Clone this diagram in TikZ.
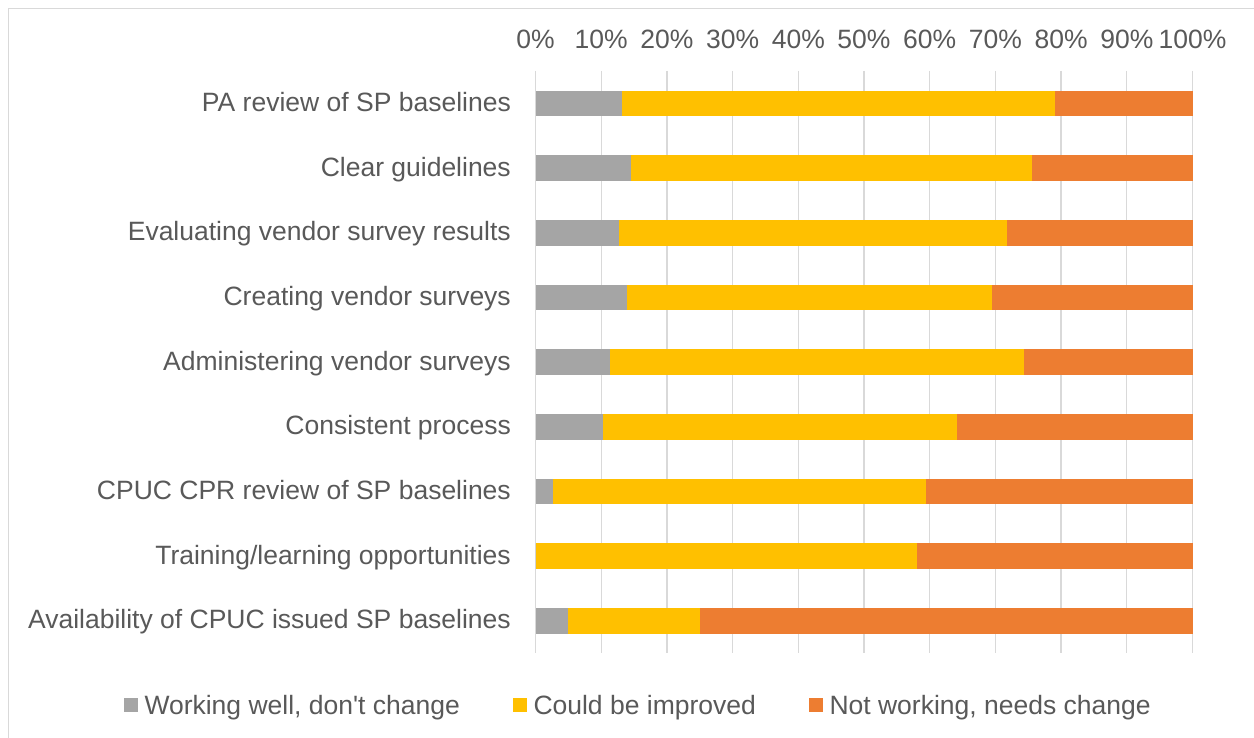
\documentclass[tikz,border=0pt]{standalone}
\usepackage{fontspec}
\setmainfont{Liberation Sans}
\definecolor{txtc}{HTML}{595959}
\definecolor{gridc}{HTML}{D9D9D9}
\definecolor{grayb}{HTML}{A5A5A5}
\definecolor{yellowb}{HTML}{FFC000}
\definecolor{orangeb}{HTML}{ED7D31}
\tikzset{
  lbl/.style={text=txtc,font=\fontsize{26.5}{30}\selectfont,inner sep=0pt},
  gridline/.style={draw=gridc,line width=1.3pt},
  legsq/.style={minimum size=14pt,inner sep=0pt,draw=none},
}
\begin{document}
\begin{tikzpicture}[x=1pt,y=-1pt]
\useasboundingbox (0,0) rectangle (1254,738);
\fill[white] (0,0) rectangle (1254,738);
% frame
\draw[gridc,line width=1.2pt] (8.5,740) -- (8.5,8.5) -- (1256,8.5);
% grid + axis labels
\foreach \i in {0,...,10}{
  \pgfmathsetmacro{\gx}{535.5+65.7*\i}
  \draw[gridline] (\gx,71) -- (\gx,653);
  \pgfmathtruncatemacro{\pc}{10*\i}
  \node[lbl,anchor=base] (ax\i) at (\gx,48.3) {\pc\%};
}
% bars
\foreach \n/\g/\y/\t [count=\r from 0] in {
  1/13.1/79.0/{PA review of SP baselines},
  2/14.5/75.6/{Clear guidelines},
  3/12.7/71.8/{Evaluating vendor survey results},
  4/13.9/69.5/{Creating vendor surveys},
  5/11.4/74.3/{Administering vendor surveys},
  6/10.2/64.1/{Consistent process},
  7/2.7/59.5/{CPUC CPR review of SP baselines},
  8/0/58.1/{Training/learning opportunities},
  9/5.0/25.0/{Availability of CPUC issued SP baselines}}{
  \pgfmathsetmacro{\cy}{103.5+64.65*\r}
  \pgfmathsetmacro{\xg}{535.5+6.57*\g}
  \pgfmathsetmacro{\xy}{535.5+6.57*\y}
  \fill[grayb] (535.5,\cy-12.8) rectangle (\xg,\cy+12.8);
  \fill[yellowb] (\xg,\cy-12.8) rectangle (\xy,\cy+12.8);
  \fill[orangeb] (\xy,\cy-12.8) rectangle (1192.5,\cy+12.8);
  \node[lbl,anchor=base east] (cat\n) at (511,\cy+8) {\t};
}
% legend
\node[legsq,fill=grayb] (sq1) at (131,705) {};
\node[lbl,anchor=base west] (lg1) at (144.3,714) {Working well, don\textquotesingle t change};
\node[legsq,fill=yellowb] (sq2) at (520,705) {};
\node[lbl,anchor=base west] (lg2) at (533.3,714) {Could be improved};
\node[legsq,fill=orangeb] (sq3) at (816,705) {};
\node[lbl,anchor=base west] (lg3) at (829.3,714) {Not working, needs change};
\end{tikzpicture}
\end{document}
